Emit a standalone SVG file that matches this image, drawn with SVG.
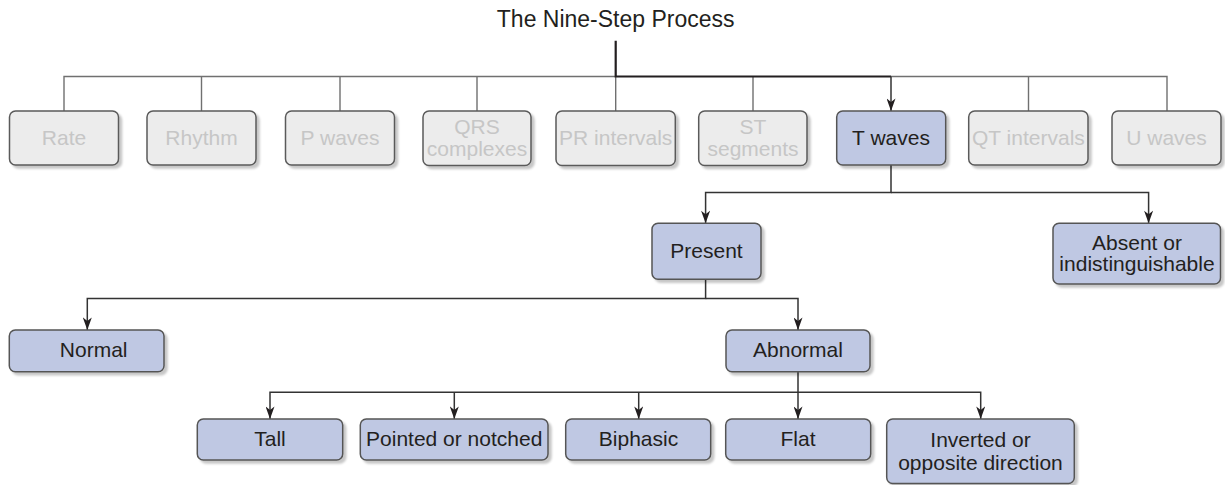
<svg xmlns="http://www.w3.org/2000/svg" width="1225" height="485" viewBox="0 0 1225 485">
<defs>
<filter id="sh" x="-10%" y="-10%" width="125%" height="135%">
<feDropShadow dx="3" dy="3" stdDeviation="1.3" flood-color="#000" flood-opacity="0.22"/>
</filter>
<marker id="arr" viewBox="0 0 14 10" refX="14" refY="5" markerWidth="14" markerHeight="9" markerUnits="userSpaceOnUse" orient="auto">
<path d="M0,0 L14,5 L0,10 L4,5 Z" fill="#231f20"/>
</marker>
</defs>
<style>
text{font-family:"Liberation Sans",Arial,sans-serif;font-size:21px;text-anchor:middle}
.g rect{fill:#ececec;stroke:#5a5a5a;stroke-width:1.5;filter:url(#sh)}
.g text{fill:#c6c6c6}
.b rect{fill:#bfc8e3;stroke:#555;stroke-width:1.5;filter:url(#sh)}
.b text{fill:#231f20}
.cg{fill:none;stroke:#707070;stroke-width:1.4}
.ck{fill:none;stroke:#231f20;stroke-width:2.2}
.cb{fill:none;stroke:#333;stroke-width:1.5}
.title{font-size:23px;fill:#231f20}
</style>
<text class="title" x="615.7" y="27">The Nine-Step Process</text>
<g id="connectors">
<path class="cg" d="M64,111 V76.5 H615.7 M201.5,111 V76.5 M340,111 V76.5 M477,111 V76.5 M615.7,111 V76.5 M753,111 V76.5"/>
<path class="cg" d="M891,76.5 H1167 V111 M1028.5,111 V76.5"/>
<path class="ck" d="M615.7,40.7 V76.5 H891"/>
<path class="cb" d="M891,76.5 V111" marker-end="url(#arr)"/>
<path class="cb" d="M891,165 V192.5 H705.6 V223.3" marker-end="url(#arr)"/>
<path class="cb" d="M891,192.5 H1148.6 V223.3" marker-end="url(#arr)"/>
<path class="cb" d="M705.6,279.3 V298.5 H87.3 V330" marker-end="url(#arr)"/>
<path class="cb" d="M705.6,298.5 H798 V330" marker-end="url(#arr)"/>
<path class="cb" d="M798,371.7 V392.3 H270 V419" marker-end="url(#arr)"/>
<path class="cb" d="M454.3,392.3 V419" marker-end="url(#arr)"/>
<path class="cb" d="M638.7,392.3 V419" marker-end="url(#arr)"/>
<path class="cb" d="M798,392.3 V419" marker-end="url(#arr)"/>
<path class="cb" d="M798,392.3 H980.7 V419" marker-end="url(#arr)"/>
</g>
<g id="rate" class="g"><rect x="9.5" y="111" width="109" height="54" rx="6"/><text x="64" y="145">Rate</text></g>
<g id="rhythm" class="g"><rect x="147" y="111" width="109" height="54" rx="6"/><text x="201.5" y="145">Rhythm</text></g>
<g id="pwaves" class="g"><rect x="285.5" y="111" width="109" height="54" rx="6"/><text x="340" y="145">P waves</text></g>
<g id="qrs" class="g"><rect x="423" y="111" width="108" height="54.5" rx="6"/><text x="477" y="134.3">QRS</text><text x="477" y="156">complexes</text></g>
<g id="pr" class="g"><rect x="556" y="111" width="119.3" height="54.5" rx="6"/><text x="615.7" y="145">PR intervals</text></g>
<g id="st" class="g"><rect x="698.7" y="111" width="108.3" height="54.5" rx="6"/><text x="753" y="134.3">ST</text><text x="753" y="156">segments</text></g>
<g id="twaves" class="b"><rect x="836.7" y="111" width="109" height="54" rx="6"/><text x="891" y="145">T waves</text></g>
<g id="qt" class="g"><rect x="968.7" y="111" width="119.3" height="54" rx="6"/><text x="1028.4" y="145">QT intervals</text></g>
<g id="uwaves" class="g"><rect x="1112" y="111" width="109" height="54" rx="6"/><text x="1166.5" y="145">U waves</text></g>
<g id="present" class="b"><rect x="652" y="223.3" width="109" height="56" rx="6"/><text x="706.5" y="258">Present</text></g>
<g id="absent" class="b"><rect x="1053" y="223.3" width="167.5" height="60.7" rx="6"/><text x="1137" y="249.5">Absent or</text><text x="1137" y="271">indistinguishable</text></g>
<g id="normal" class="b"><rect x="9.3" y="330" width="154.7" height="41.7" rx="6"/><text x="93.7" y="356.5">Normal</text></g>
<g id="abnormal" class="b"><rect x="726" y="330" width="144" height="41.7" rx="6"/><text x="798" y="357">Abnormal</text></g>
<g id="tall" class="b"><rect x="197.3" y="419" width="145.4" height="41" rx="6"/><text x="270" y="446">Tall</text></g>
<g id="pointed" class="b"><rect x="360.3" y="419" width="187.7" height="41" rx="6"/><text x="454.2" y="446">Pointed or notched</text></g>
<g id="biphasic" class="b"><rect x="565.7" y="419" width="145" height="41" rx="6"/><text x="638.5" y="446">Biphasic</text></g>
<g id="flat" class="b"><rect x="725.7" y="419" width="145" height="41" rx="6"/><text x="798" y="446">Flat</text></g>
<g id="inverted" class="b"><rect x="886.7" y="419" width="187.6" height="64.5" rx="6"/><text x="980.5" y="446.5">Inverted or</text><text x="980.5" y="470">opposite direction</text></g>
</svg>
